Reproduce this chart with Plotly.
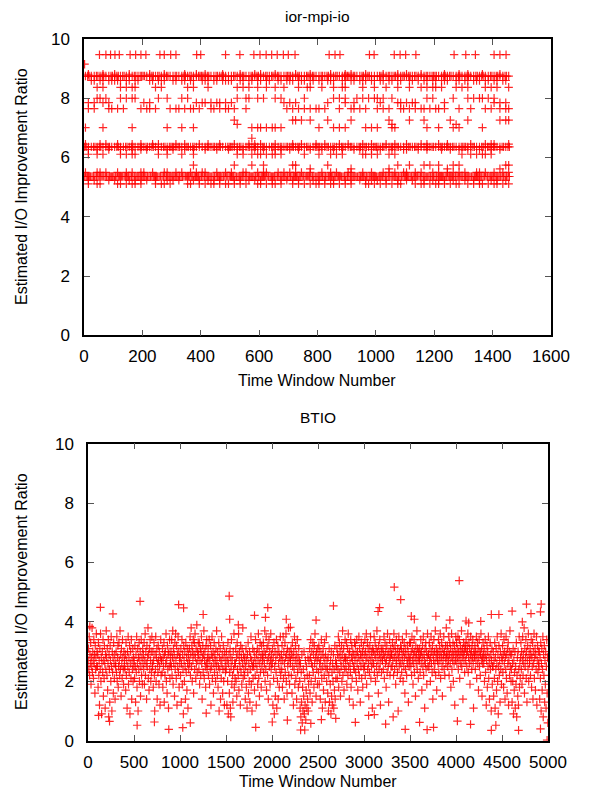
import plotly.graph_objects as go

# ---------------- ior-mpi-io data (time window, ratio) ----------------
# sparse levels: explicit time-window positions
ior_945_x = [53, 75, 91, 106, 121, 158, 177, 195, 212, 260, 275, 297, 315, 386, 400, 485, 534, 582, 603, 624,
             643, 662, 683, 700, 723, 840, 860, 877, 978, 994, 1063, 1083, 1102, 1137, 1268, 1308, 1341, 1405, 1425, 1446]
ior_915_x = [2]
ior_835_x = [45, 65, 125, 145, 165, 175, 245, 265, 355, 375, 425, 525, 545, 565, 595, 625, 655, 685, 735, 765,
             775, 815, 855, 885, 895, 955, 995, 1035, 1075, 1115, 1155, 1175, 1195, 1205, 1225, 1275, 1295, 1315,
             1375, 1395, 1415, 1455]
ior_800_x = [45, 55, 75, 125, 145, 165, 175, 255, 285, 335, 355, 525, 555, 565, 595, 615, 655, 675, 755, 855, 875,
             895, 935, 955, 975, 995, 1005, 1025, 1055, 1175, 1195, 1265, 1315, 1335, 1355, 1365, 1385, 1405]
ior_785_x = [15, 35, 65, 85, 205, 225, 385, 405, 415, 435, 455, 465, 485, 505, 685, 705, 725, 835, 895, 925, 1015,
             1075, 1085, 1105, 1125, 1135, 1235, 1405, 1425, 1445]
ior_765_x = [15, 35, 85, 95, 115, 135, 195, 215, 225, 245, 295, 315, 325, 345, 365, 375, 395, 435, 445, 465, 485,
             495, 515, 555, 695, 715, 735, 755, 775, 795, 805, 825, 875, 915, 925, 945, 965, 1005, 1025, 1045, 1085,
             1095, 1115, 1135, 1155, 1165, 1185, 1205, 1215, 1235, 1285, 1325, 1375, 1395, 1425, 1445, 1455]
ior_725_x = [515, 715, 725, 745, 775, 835, 915, 1045, 1115, 1165, 1255, 1315, 1425, 1445, 1455]
ior_712_x = [525, 1055, 1275]
ior_700_x = [5, 65, 165, 285, 335, 375, 575, 595, 605, 625, 645, 655, 675, 805, 855, 875, 895, 965, 985, 1005,
             1055, 1065, 1175, 1215, 1265, 1285, 1365]
ior_665_x = [575]
ior_610_x = [15, 45, 65, 125, 145, 165, 175, 255, 285, 335, 375, 525, 545, 575, 595, 605, 625, 645, 655, 675, 755,
             805, 845, 865, 885, 955, 965, 985, 1005, 1045, 1065, 1295, 1325, 1345, 1365, 1375, 1395]
ior_575_x = [375, 515, 575, 615, 715, 725, 835, 1075, 1115, 1165, 1185, 1215, 1265, 1285, 1445, 1455]
ior_562_x = [775, 915, 1045, 1245, 1425]
ior_510_x = [15, 45, 55, 115, 125, 145, 165, 175, 195, 245, 265, 275, 295, 355, 365, 395, 415, 435, 445, 465, 485,
             495, 515, 535, 555, 595, 605, 625, 645, 655, 675, 715, 735, 755, 775, 795, 805, 825, 845, 855, 875, 895,
             915, 965, 975, 995, 1015, 1035, 1055, 1075, 1085, 1135, 1155, 1165, 1185, 1205, 1215, 1235, 1255, 1275,
             1285, 1315, 1335, 1355, 1365, 1385, 1405, 1415, 1435, 1455]

# dense levels: number of points per 10-window bin (146 bins = windows 0..1459)
ior_880_counts = ("0100001000" "1000010000" "0010000100" "0000100010" "0100000100" "0001000010" "1000010000"
                  "0010000100" "0000100001" "0100001000" "0010000100" "1000010000" "0001000010" "0100001000" "001000")
ior_875_counts = ("1211212112" "1212111212" "2112121121" "1211212112" "2121121211" "1211211212" "1121212112"
                  "2112112121" "1212112112" "2121121211" "1211212112" "1212111212" "2112121121" "1211212112" "121121")
ior_860_counts = ("0011011011" "1110110110" "0011011100" "1101101100" "1110110111" "1001101101" "1011001101"
                  "1101110110" "1101110011" "0110111011" "0110110110" "0110101101" "1011100110" "1101110110" "110110")
ior_645_counts = ("1000010100" "0100001001" "0001010000" "0100100001" "0010001000" "0100001010" "1000010000"
                  "0100100001" "0010000100" "1000010010" "0001001000" "1000010100" "0100100000" "0010000101" "100001")
ior_635_counts = ("2112121121" "1211212112" "1212111212" "2121121211" "1121212112" "2112112121" "1211211212"
                  "1212112112" "2112121121" "1211212112" "2121121211" "1212111212" "1121212112" "2112112121" "211212")
ior_627_counts = ("0100100010" "0010001001" "0100010010" "1000100100" "0100010001" "0010100010" "0100010100"
                  "1001000100" "0100010010" "0010100010" "0100010001" "1000100100" "0010010010" "0100010001" "001000")
ior_550_counts = ("1000110100" "0100101001" "1001000110" "0101001010" "1100010010" "1000110001" "0110001010"
                  "1010100100" "0100101000" "1100010010" "0010101001" "1001010001" "0100101010" "1000110100" "100101")
ior_535_counts = ("2322232223" "2232322232" "3222322223" "2322232232" "2232223222" "3223222322" "2322322232"
                  "2232223222" "3222322322" "2232232223" "2322223222" "3223222322" "2232232232" "2322322223" "232222")
ior_522_counts = ("0101000010" "1000010101" "0100100010" "1010000101" "0010101000" "0101001010" "1000100101"
                  "0101000010" "1010010001" "0100101010" "1001000100" "1010001001" "0101001000" "1001010001" "010010")

# ---------------- BTIO data (ratio x10, per 100-window block) ----------------
btio_blocks = [
    [27,31,24,35,22,29,26,33,19,28,25,38,23,30,27,21,34,26,29,16,32,24,28,36,25,30],
    [25,29,18,33,22,27,12,31,24,36,20,28,9,26,30,23,34,15,27,21,32,26,11,29,24,37],
    [28,22,31,17,26,34,8,29,24,13,32,27,20,35,25,10,30,23,28,16,33,26,21,29,14,25],
    [26,30,23,35,20,28,32,18,25,33,27,22,37,24,29,15,31,26,21,34,28,24,19,30,25,27],
    [24,29,17,33,22,27,11,30,25,35,19,28,23,32,9,26,30,21,34,14,27,24,31,20,28,25],
    [27,21,32,25,13,29,23,35,18,26,31,10,28,24,33,20,27,30,15,25,34,22,28,19,31,26],
    [29,24,33,19,27,36,22,30,26,14,32,25,28,38,21,29,17,31,24,34,27,20,30,23,35,26],
    [25,30,18,27,33,22,10,29,24,35,20,28,31,14,26,23,32,27,19,30,25,12,28,34,22,27],
    [27,23,31,18,28,25,33,13,29,22,30,26,36,20,27,16,32,24,29,11,30,25,34,21,28,26],
    [30,25,34,22,28,37,19,31,26,29,15,33,24,36,27,21,32,12,29,25,35,23,30,18,28,26],
    [28,22,31,13,26,34,19,29,24,9,32,27,20,30,25,14,33,23,28,17,31,26,11,29,24,27],
    [31,26,35,22,29,38,25,32,20,30,27,34,16,29,33,24,36,28,21,31,26,39,23,30,27,33],
    [29,24,33,19,27,31,22,30,35,26,14,28,32,23,29,37,21,27,30,25,18,32,26,34,24,28],
    [26,31,22,28,34,19,27,24,32,12,29,25,35,21,28,30,16,26,33,23,29,27,20,31,25,37],
    [27,22,30,18,25,33,10,28,24,31,14,27,21,35,26,29,16,24,32,20,28,12,30,25,23,27],
    [24,30,12,27,20,33,9,26,29,16,23,31,11,28,25,34,19,27,22,13,30,24,36,18,26,21],
    [26,31,20,28,15,33,24,29,22,36,17,27,30,25,12,32,23,28,19,31,26,38,21,29,24,27],
    [22,28,14,25,31,18,27,11,29,23,33,16,26,20,30,13,24,28,35,19,27,10,25,31,21,26],
    [25,30,17,28,22,34,26,12,29,24,31,19,27,36,21,30,15,26,33,23,28,18,32,25,29,27],
    [28,33,23,30,26,37,20,29,24,35,17,31,27,22,32,14,28,34,25,30,19,27,36,24,29,26],
    [26,31,12,28,21,33,9,25,30,15,27,23,34,11,29,20,32,14,26,30,18,28,24,35,22,27],
    [29,24,32,18,27,35,21,30,14,26,33,23,28,36,20,29,16,31,25,27,38,22,30,19,28,26],
    [27,31,22,29,16,33,25,28,12,30,24,35,19,27,32,21,29,14,26,34,23,28,18,31,25,27],
    [20,11,26,8,23,13,29,6,18,10,24,15,30,9,21,12,27,7,17,25,11,22,14,28,10,19],
    [27,22,31,16,28,34,20,26,30,13,25,33,23,29,18,32,26,36,21,28,15,30,24,27,19,31],
    [28,23,32,19,26,30,14,27,24,34,21,29,11,25,31,17,28,22,33,26,13,29,24,35,20,27],
    [24,16,28,10,22,31,13,25,19,27,9,30,15,23,12,26,20,29,11,24,17,32,14,27,21,25],
    [26,31,21,29,24,35,18,28,33,23,30,15,27,25,32,20,29,37,22,26,31,17,28,24,34,27],
    [28,24,33,19,27,31,22,36,25,29,14,30,26,23,34,18,28,32,21,27,30,12,25,29,24,33],
    [27,32,23,29,20,34,26,30,17,28,24,35,22,31,27,13,29,25,33,21,28,30,18,26,32,24],
    [29,25,34,22,30,27,36,19,28,33,24,31,26,15,29,23,32,27,35,21,30,25,28,11,31,26],
    [30,26,35,23,29,33,20,28,31,25,37,22,30,27,16,32,24,29,34,26,12,28,31,23,30,27],
    [27,31,24,29,35,21,28,33,26,30,18,27,32,23,36,29,25,13,30,27,34,22,28,31,25,29],
    [29,25,33,27,31,22,36,28,24,32,30,19,27,34,26,29,23,31,10,28,35,25,30,27,21,32],
    [26,31,23,29,34,27,20,30,25,33,28,16,31,24,29,36,22,27,32,26,30,13,28,25,33,27],
    [28,33,25,30,22,35,27,31,19,29,26,34,23,30,28,15,32,26,29,37,24,31,27,21,30,28],
    [27,31,23,29,34,26,30,17,28,32,25,35,22,29,27,11,31,26,33,24,30,19,28,36,25,29],
    [29,25,33,27,31,20,28,35,26,30,23,32,14,29,27,34,24,30,26,37,22,28,31,17,29,27],
    [30,26,34,23,29,32,27,36,21,30,28,33,25,15,31,27,29,35,24,30,22,28,32,26,38,29],
    [28,32,25,30,27,35,22,29,33,26,31,18,28,36,24,30,27,33,20,29,26,32,12,30,27,35],
    [29,33,26,31,28,35,24,30,27,34,21,29,32,26,30,37,25,28,31,14,29,33,27,30,23,32],
    [31,27,34,29,25,32,30,36,23,28,33,26,31,19,29,35,27,30,24,32,28,34,26,11,30,29],
    [28,32,24,30,27,35,21,29,33,26,31,17,28,34,25,30,22,29,36,27,31,15,28,26,33,29],
    [26,31,20,28,34,23,29,12,27,32,18,30,25,35,21,28,14,26,33,24,29,10,27,31,19,25],
    [25,30,15,27,21,33,11,28,24,31,17,26,35,20,29,9,25,32,22,27,13,30,24,36,19,28],
    [27,32,23,29,18,34,26,30,14,28,24,35,21,29,16,31,26,33,12,27,30,22,37,25,29,20],
    [24,29,13,26,20,31,9,27,17,23,30,11,25,19,33,8,22,28,15,30,12,24,35,18,26,21],
    [28,33,24,30,19,27,35,22,29,26,38,16,31,25,28,34,21,30,13,27,32,24,36,20,29,26],
    [27,31,22,29,34,18,28,25,33,14,30,26,36,21,28,31,17,29,24,35,12,27,32,23,30,26],
    [25,30,14,28,21,33,10,26,31,17,24,35,8,29,22,32,13,27,19,30,11,25,34,16,28,6],
]
btio_block_size = 100
btio_high_x = [20, 135, 271, 566, 985, 1039, 1252, 1535, 1540, 1634, 1810, 1929, 1954, 2155, 2200, 2479, 2668,
               3153, 3169, 3329, 3399, 3514, 3547, 3781, 3933, 4035, 4109, 4138, 4269, 4384, 4466, 4610, 4721,
               4766, 4815, 4918, 4926]
btio_high_y = [3.85, 4.49, 4.27, 4.69, 4.58, 4.47, 4.25, 4.87, 4.09, 3.9, 4.22, 4.15, 4.48, 4.09, 3.82, 4.06, 4.54,
               4.35, 4.48, 5.17, 4.75, 4.19, 4.09, 4.19, 4.06, 5.39, 4.03, 3.97, 4.02, 4.25, 4.25, 4.36, 4.0,
               4.6, 4.28, 4.34, 4.6]
btio_low_x = [115, 234, 534, 722, 878, 1030, 1112, 1285, 1552, 1823, 2003, 2167, 2311, 2356, 2422, 2537, 2693,
              2906, 3050, 3112, 3235, 3317, 3448, 3604, 3686, 3756, 4015, 4158, 4384, 4433, 4680, 4918, 4990]
btio_low_y = [0.85, 0.65, 0.52, 0.63, 0.38, 0.44, 0.6, 0.93, 0.8, 0.45, 0.63, 0.69, 0.36, 0.36, 0.58, 0.71, 0.75,
              0.62, 0.85, 0.88, 0.56, 0.8, 0.38, 0.62, 0.37, 0.45, 0.66, 0.55, 0.35, 0.52, 0.35, 0.4, 0.02]

x_ticks_top = [0, 200, 400, 600, 800, 1000, 1200, 1400, 1600]
x_ticks_bottom = [0, 500, 1000, 1500, 2000, 2500, 3000, 3500, 4000, 4500, 5000]
y_ticks = [0, 2, 4, 6, 8, 10]

# ---------------- assemble series ----------------
sparse_levels = [
    (9.47, ior_945_x), (9.15, ior_915_x), (8.37, ior_835_x), (8.0, ior_800_x), (7.85, ior_785_x),
    (7.65, ior_765_x), (7.26, ior_725_x), (7.12, ior_712_x), (7.01, ior_700_x), (6.65, ior_665_x),
    (6.11, ior_610_x), (5.74, ior_575_x), (5.62, ior_562_x), (5.11, ior_510_x),
]
dense_levels = [
    (8.81, ior_880_counts), (8.75, ior_875_counts), (8.6, ior_860_counts), (6.45, ior_645_counts),
    (6.36, ior_635_counts), (6.27, ior_627_counts), (5.5, ior_550_counts), (5.36, ior_535_counts),
    (5.23, ior_522_counts),
]
ior_x, ior_y = [], []
for lvl, xs in sparse_levels:
    ior_x += xs
    ior_y += [lvl] * len(xs)
for lvl, counts in dense_levels:
    for b, ch in enumerate(counts):
        c = int(ch)
        for k in range(c):
            ior_x.append(b * 10 + (k + 0.5) * 10 / c)
            ior_y.append(lvl)

btio_x, btio_y = [], []
for bi, block in enumerate(btio_blocks):
    n = len(block)
    for j, v in enumerate(block):
        btio_x.append(bi * btio_block_size + (j + 0.5) * btio_block_size / n)
        btio_y.append(v / 10)
btio_x += btio_high_x + btio_low_x
btio_y += btio_high_y + btio_low_y

# ---------------- figure ----------------
# the page body has an 8px margin, so the figure is drawn 8px smaller and
# every reference position is shifted by that offset
OFF = 8
W, H = 593 - OFF, 796 - OFF
FONT = "Liberation Sans, Arial, Helvetica, sans-serif"
marker = dict(symbol="cross-thin", size=6, color="rgb(255,0,0)",
              line=dict(width=1.2, color="rgba(255,0,0,0.85)"))

def fx(p):
    return (p - OFF) / W

def fy(p):
    return 1 - (p - OFF) / H

fig = go.Figure()
fig.add_trace(go.Scatter(x=ior_x, y=ior_y, mode="markers", marker=marker, xaxis="x", yaxis="y",
                         showlegend=False, hoverinfo="skip"))
fig.add_trace(go.Scatter(x=btio_x, y=btio_y, mode="markers", marker=marker, xaxis="x2", yaxis="y2",
                         showlegend=False, hoverinfo="skip"))

def ax(domain, rng, tickvals, anchor, standoff):
    return dict(domain=domain, range=rng, tickvals=tickvals, ticks="inside", ticklen=6, tickwidth=1,
                tickcolor="#555", mirror="ticks", showline=True, linecolor="black", linewidth=1.5,
                showgrid=False, zeroline=False, anchor=anchor, fixedrange=True, automargin=False,
                tickfont=dict(family=FONT, size=17, color="black"), ticklabelstandoff=standoff)

top = (39, 335.3)
bot = (443.7, 740.7)
fig.update_layout(
    template="none",
    width=W, height=H, margin=dict(l=0, r=0, t=0, b=0, pad=0, autoexpand=False),
    paper_bgcolor="white", plot_bgcolor="white",
    xaxis=ax([fx(84), fx(551)], [0, 1600], x_ticks_top, "y", 5),
    yaxis=ax([fy(top[1]), fy(top[0])], [0, 10], y_ticks, "x", 9),
    xaxis2=ax([fx(88), fx(548)], [0, 5000], x_ticks_bottom, "y2", 5),
    yaxis2=ax([fy(bot[1]), fy(bot[0])], [0, 10], y_ticks, "x2", 9),
)

def ann(text, xpx, ypx, size, angle=0):
    fig.add_annotation(text=text, x=fx(xpx), y=fy(ypx), xref="paper", yref="paper",
                       showarrow=False, textangle=angle, xanchor="center", yanchor="middle",
                       font=dict(family=FONT, size=size, color="black"))

ann("ior-mpi-io", 317, 17, 15.5)
ann("BTIO", 318, 418, 15.5)
ann("Time Window Number", 317, 380, 16)
ann("Time Window Number", 318, 781, 16)
ann("Estimated I/O Improvement Ratio", 21, 187, 16, -90)
ann("Estimated I/O Improvement Ratio", 21, 592, 16, -90)

fig.write_html("out.html")
